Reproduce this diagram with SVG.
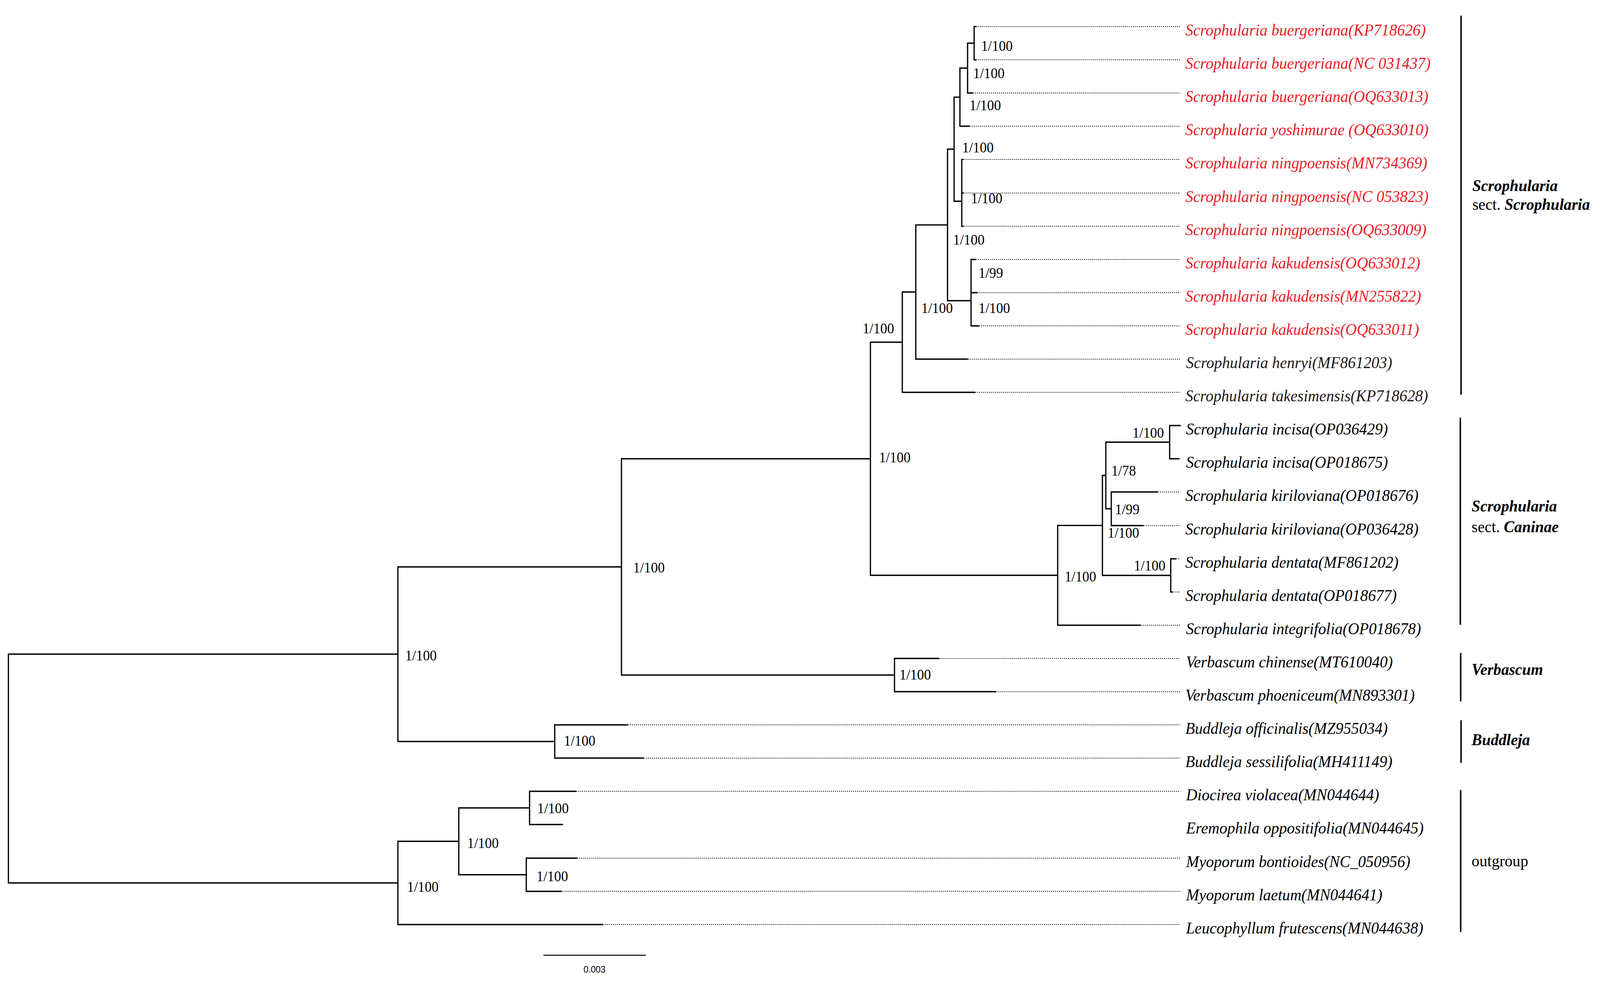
<svg xmlns="http://www.w3.org/2000/svg" width="4387" height="2513" viewBox="0 0 4387 2513">
<style>
.br{fill:none;stroke:#000;stroke-width:3.4;stroke-linecap:square}
.dot{fill:none;stroke:#000;stroke-width:1.8;stroke-dasharray:2.5 3}
.tx{font-family:"Liberation Serif","Times New Roman",serif;font-style:italic;font-size:43px;fill:#000}
.red{fill:#ee1c25}
.dk{fill:#231815}
.sv{font-family:"Liberation Serif","Times New Roman",serif;font-size:38px;fill:#000}
.grp{font-family:"Liberation Serif","Times New Roman",serif;font-size:43px;fill:#000}
.bi{font-weight:bold;font-style:italic}
.bar{fill:none;stroke:#000;stroke-width:4}
.sc{font-family:"Liberation Sans",Arial,sans-serif;font-size:24px;fill:#000}
</style>
<rect width="4387" height="2513" fill="#fff"/>
<g id="tree" transform="scale(0.93367 1)">
<g id="connectors">
<path class="br" d="M23,1674V2259.5 M23,1674H1091 M23,2259.5H1091
M1091,1450.7V1897.5 M1091,1450.7H1704 M1091,1897.5H1521
M1704,1174V1727.5 M1704,1174H2386.6 M1704,1727.5H2452.6
M2386.6,875.7V1472.3 M2386.6,875.7H2474 M2386.6,1472.3H2900
M2474,747.3V1004 M2474,747.3H2511 M2474,1004H2672
M2511,575.6V919 M2511,575.6H2598 M2511,919H2652.5
M2598,381.8V769.5 M2598,381.8H2616 M2598,769.5H2662.5
M2616,248.6V515 M2616,248.6H2632 M2616,515H2637
M2632,174.3V323 M2632,174.3H2653 M2632,323H2657
M2653,110.5V238 M2653,110.5H2671 M2653,238H2666
M2671,68V153 M2671,68H2675 M2671,153H2675
M2637,408V579 M2637,408H2640 M2637,494H2640 M2637,579H2640
M2662.5,664V834 M2662.5,664H2674 M2662.5,749H2678 M2662.5,834H2683
M2900,1344.6V1600 M2900,1344.6H3022.7 M2900,1600H3126
M3022.7,1216.7V1472.5 M3022.7,1216.7H3032 M3022.7,1472.5H3210
M3032,1131.5V1302 M3032,1131.5H3207 M3032,1302H3047
M3207,1089V1174 M3207,1089H3236 M3207,1174H3233
M3047,1259V1345 M3047,1259H3172.7 M3047,1345H3134
M3210,1430V1515 M3210,1430H3223 M3210,1515H3213
M2452.6,1685V1770 M2452.6,1685H2573.6 M2452.6,1770H2729.5
M1521,1855V1940 M1521,1855H1720 M1521,1940H1763.5
M1091,2153V2366 M1091,2153H1258 M1091,2366H1651
M1258,2067.5V2238.5 M1258,2067.5H1452 M1258,2238.5H1443
M1452,2025V2110 M1452,2025H1578 M1452,2110H1542
M1443,2196V2281 M1443,2196H1581 M1443,2281H1538"/>
<path class="dot" d="M2677,68H3236 M2677,153H3236 M2668,238H3236 M2659,323H3236
M2642,408H3236 M2642,494H3236 M2642,579H3236
M2676,664H3236 M2680,749H3236 M2685,834H3236
M2655,919H3236 M2674,1004H3236
M3175,1259H3236 M3136,1345H3236 M3225,1430H3236 M3215,1515H3236 M3128,1600H3236
M2576,1685H3236 M2732,1770H3236 M1722,1855H3236 M1766,1940H3236
M1580,2025H3236 M1583,2196H3236 M1540,2281H3236 M1653,2366H3236"/>
</g>
<g id="leaves">
<g id="leaf1"><text class="tx red" x="3250" y="91">Scrophularia buergeriana(KP718626)</text></g>
<g id="leaf2"><text class="tx red" x="3250" y="176">Scrophularia buergeriana(NC 031437)</text></g>
<g id="leaf3"><text class="tx red" x="3250" y="261">Scrophularia buergeriana(OQ633013)</text></g>
<g id="leaf4"><text class="tx red" x="3250" y="346">Scrophularia yoshimurae (OQ633010)</text></g>
<g id="leaf5"><text class="tx red" x="3250" y="431">Scrophularia ningpoensis(MN734369)</text></g>
<g id="leaf6"><text class="tx red" x="3250" y="517">Scrophularia ningpoensis(NC 053823)</text></g>
<g id="leaf7"><text class="tx red" x="3250" y="602">Scrophularia ningpoensis(OQ633009)</text></g>
<g id="leaf8"><text class="tx red" x="3250" y="687">Scrophularia kakudensis(OQ633012)</text></g>
<g id="leaf9"><text class="tx red" x="3250" y="772">Scrophularia kakudensis(MN255822)</text></g>
<g id="leaf10"><text class="tx red" x="3250" y="857">Scrophularia kakudensis(OQ633011)</text></g>
<g id="leaf11"><text class="tx dk" x="3252" y="942">Scrophularia henryi(MF861203)</text></g>
<g id="leaf12"><text class="tx dk" x="3250" y="1027">Scrophularia takesimensis(KP718628)</text></g>
<g id="leaf13"><text class="tx" x="3252" y="1112">Scrophularia incisa(OP036429)</text></g>
<g id="leaf14"><text class="tx" x="3252" y="1197">Scrophularia incisa(OP018675)</text></g>
<g id="leaf15"><text class="tx" x="3250" y="1282">Scrophularia kiriloviana(OP018676)</text></g>
<g id="leaf16"><text class="tx" x="3250" y="1368">Scrophularia kiriloviana(OP036428)</text></g>
<g id="leaf17"><text class="tx" x="3250" y="1453">Scrophularia dentata(MF861202)</text></g>
<g id="leaf18"><text class="tx" x="3250" y="1538">Scrophularia dentata(OP018677)</text></g>
<g id="leaf19"><text class="tx" x="3252" y="1623">Scrophularia integrifolia(OP018678)</text></g>
<g id="leaf20"><text class="tx" x="3252" y="1708">Verbascum chinense(MT610040)</text></g>
<g id="leaf21"><text class="tx" x="3250" y="1793">Verbascum phoeniceum(MN893301)</text></g>
<g id="leaf22"><text class="tx" x="3250" y="1878">Buddleja officinalis(MZ955034)</text></g>
<g id="leaf23"><text class="tx" x="3250" y="1963">Buddleja sessilifolia(MH411149)</text></g>
<g id="leaf24"><text class="tx" x="3252" y="2048">Diocirea violacea(MN044644)</text></g>
<g id="leaf25"><text class="tx" x="3252" y="2133">Eremophila oppositifolia(MN044645)</text></g>
<g id="leaf26"><text class="tx" x="3252" y="2219">Myoporum bontioides(NC_050956)</text></g>
<g id="leaf27"><text class="tx" x="3252" y="2304">Myoporum laetum(MN044641)</text></g>
<g id="leaf28"><text class="tx" x="3252" y="2389">Leucophyllum frutescens(MN044638)</text></g>
</g>
<g id="support">
<g id="nodeA"><text class="sv" x="1111" y="1690">1/100</text></g>
<g id="nodeB"><text class="sv" x="1736" y="1465">1/100</text></g>
<g id="nodeC"><text class="sv" x="2410" y="1183">1/100</text></g>
<g id="nodeD"><text class="sv" x="2365" y="853">1/100</text></g>
<g id="nodeE"><text class="sv" x="2526" y="801">1/100</text></g>
<g id="nodeF"><text class="sv" x="2613" y="626">1/100</text></g>
<g id="nodeG"><text class="sv" x="2638" y="390">1/100</text></g>
<g id="nodeH"><text class="sv" x="2658" y="282">1/100</text></g>
<g id="nodeI"><text class="sv" x="2668" y="200">1/100</text></g>
<g id="nodeJ"><text class="sv" x="2690" y="130">1/100</text></g>
<g id="nodeN"><text class="sv" x="2662" y="520">1/100</text></g>
<g id="nodeK1"><text class="sv" x="2683" y="711">1/99</text></g>
<g id="nodeK2"><text class="sv" x="2683" y="801">1/100</text></g>
<g id="nodeL"><text class="sv" x="2919" y="1488">1/100</text></g>
<g id="nodeM"><text class="sv" x="3037" y="1376">1/100</text></g>
<g id="nodeP"><text class="sv" x="3047" y="1217">1/78</text></g>
<g id="nodeQ"><text class="sv" x="3105" y="1120">1/100</text></g>
<g id="nodeR"><text class="sv" x="3057" y="1316">1/99</text></g>
<g id="nodeS"><text class="sv" x="3109" y="1460">1/100</text></g>
<g id="nodeV"><text class="sv" x="2466" y="1739">1/100</text></g>
<g id="nodeBu"><text class="sv" x="1546" y="1908">1/100</text></g>
<g id="nodeO"><text class="sv" x="1116" y="2282">1/100</text></g>
<g id="nodeO1"><text class="sv" x="1281" y="2170">1/100</text></g>
<g id="nodeDE"><text class="sv" x="1473" y="2081">1/100</text></g>
<g id="nodeMy"><text class="sv" x="1471" y="2255">1/100</text></g>
</g>
<g id="groups">
<g id="grp-scroph"><path class="bar" d="M4006,40V1010"/><text class="grp bi" x="4037" y="489">Scrophularia</text><text class="grp" x="4037" y="537">sect. <tspan class="bi">Scrophularia</tspan></text></g>
<g id="grp-caninae"><path class="bar" d="M4004,1069V1599"/><text class="grp bi" x="4035" y="1309">Scrophularia</text><text class="grp" x="4035" y="1362">sect. <tspan class="bi">Caninae</tspan></text></g>
<g id="grp-verbascum"><path class="bar" d="M4005,1671V1795"/><text class="grp bi" x="4035" y="1727">Verbascum</text></g>
<g id="grp-buddleja"><path class="bar" d="M4006,1843V1952"/><text class="grp bi" x="4035" y="1907">Buddleja</text></g>
<g id="grp-outgroup"><path class="bar" d="M4005,2022V2385"/><text class="grp" x="4035" y="2217">outgroup</text></g>
</g>
<g id="scale">
<path d="M1490,2444.5H1771" fill="none" stroke="#000" stroke-width="2.4"/>
<text class="sc" x="1630" y="2489" text-anchor="middle">0.003</text>
</g>
</g>
</svg>
